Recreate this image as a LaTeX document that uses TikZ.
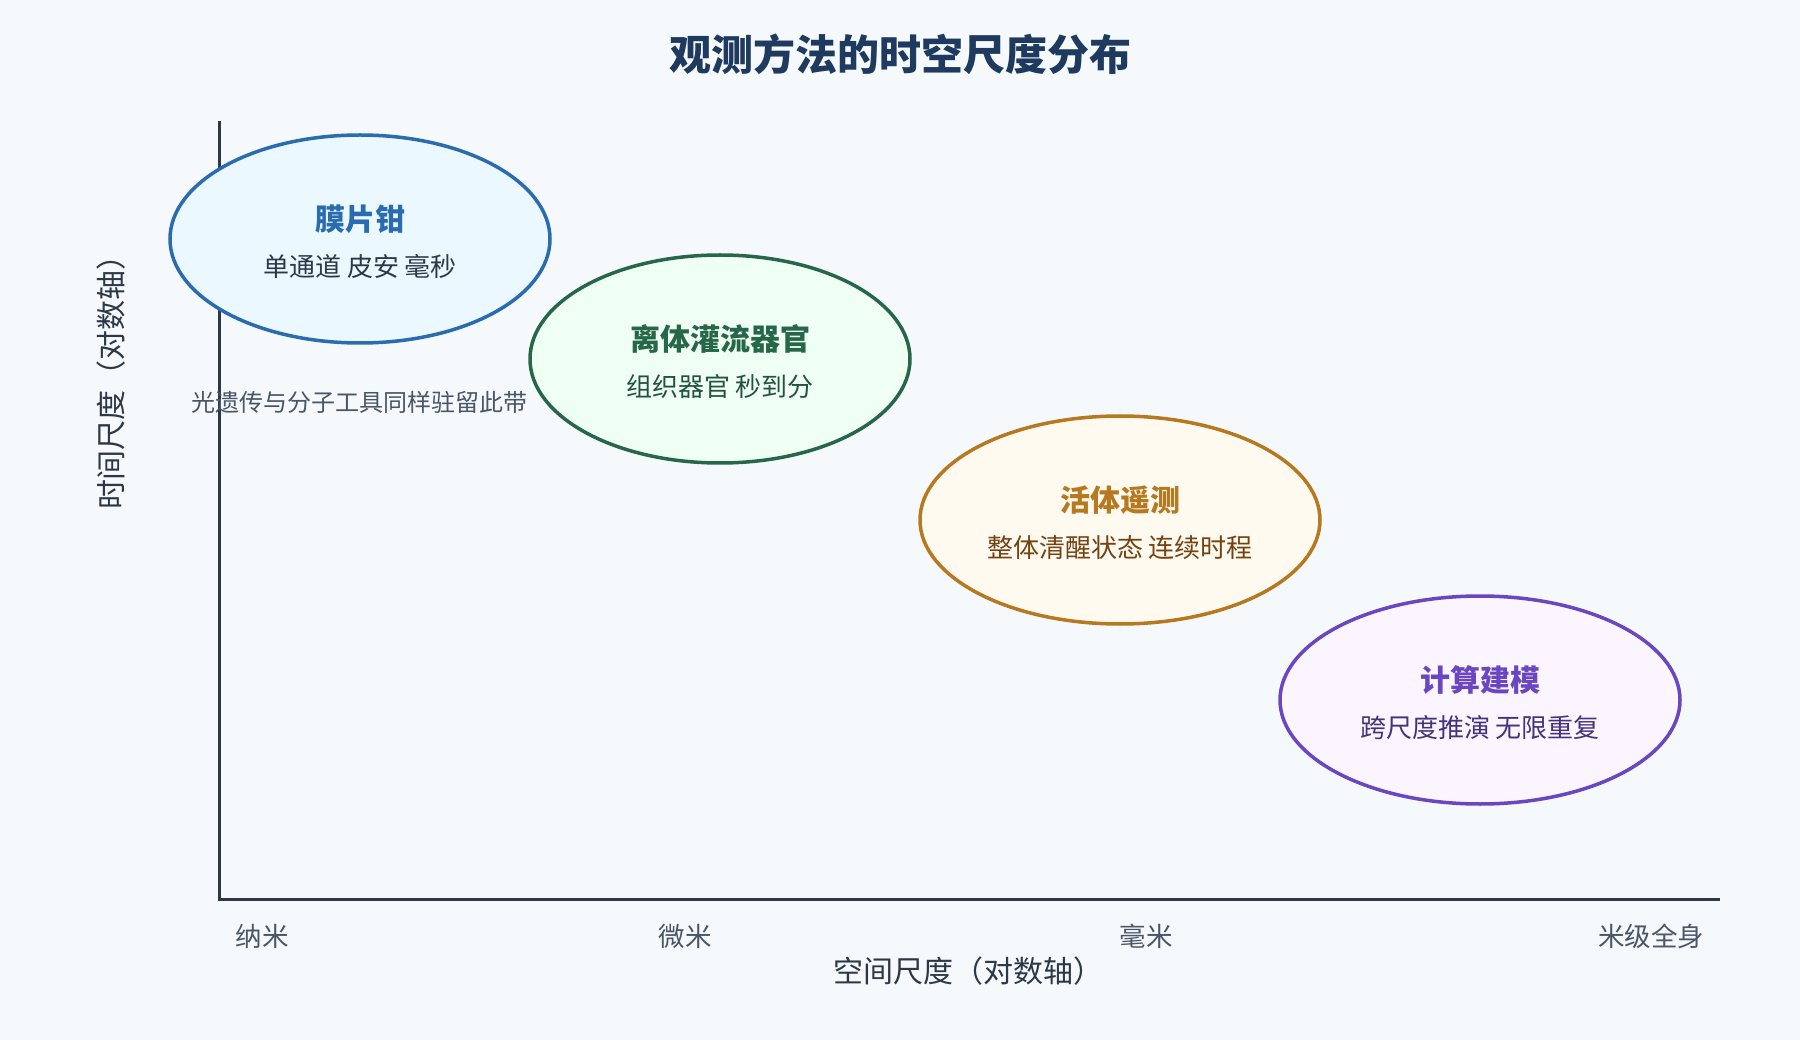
\documentclass[tikz,border=0pt]{standalone}
\usepackage{fontspec}
\setmainfont{Noto Sans CJK SC}
\usepackage{tikz}
\usetikzlibrary{shapes,positioning}

\definecolor{bgcol}{HTML}{F5F9FC}
\definecolor{titlecol}{HTML}{1E3A5F}
\definecolor{axiscol}{HTML}{2D3748}
\definecolor{tickcol}{HTML}{4A5568}
\definecolor{bluedraw}{HTML}{2B6CB0}
\definecolor{bluefill}{HTML}{EBF8FF}
\definecolor{greendraw}{HTML}{276749}
\definecolor{greenfill}{HTML}{F0FFF4}
\definecolor{greentext}{HTML}{22543D}
\definecolor{orangedraw}{HTML}{B7791F}
\definecolor{orangefill}{HTML}{FFFAF0}
\definecolor{orangetext}{HTML}{744210}
\definecolor{purpledraw}{HTML}{6B46C1}
\definecolor{purplefill}{HTML}{FAF5FF}
\definecolor{purpletext}{HTML}{44337A}

\begin{document}
\begin{tikzpicture}[x=1pt,y=-1pt]
	\tikzset{
		myellipse/.style={ellipse, line width=3.5pt, minimum width=380pt, minimum height=208pt, inner sep=0pt},
		myhead/.style={font=\fontsize{30}{34}\selectfont\bfseries, inner sep=0pt},
		mysub/.style={font=\fontsize{26}{30}\selectfont, inner sep=0pt},
		mytick/.style={font=\fontsize{26.5}{30}\selectfont, text=tickcol, inner sep=0pt},
		mylabel/.style={font=\fontsize{30}{34}\selectfont, text=axiscol, inner sep=0pt},
		myaxis/.style={line width=3pt, draw=axiscol}
	}
	\fill[bgcol] (0,0) rectangle (1800,1040);

	\node[font=\fontsize{42}{48}\selectfont\bfseries, text=titlecol] (title) at (900,54) {观测方法的时空尺度分布};

	% axes
	\coordinate (ytop) at (219,121);
	\coordinate (origin) at (219,899);
	\coordinate (xend) at (1720,899);
	\draw[myaxis] (ytop) -- (origin) -- (xend);

	% methods
	\node[myellipse, draw=bluedraw, fill=bluefill] (patch) at (360,239) {};
	\node[myhead, text=bluedraw] (patchname) at ([yshift=20pt]patch.center) {膜片钳};
	\node[mysub, text=axiscol, below=21pt of patchname] (patchsub) {单通道 皮安 毫秒};

	\node[myellipse, draw=greendraw, fill=greenfill] (organ) at (720,359) {};
	\node[myhead, text=greendraw] (organname) at ([yshift=20pt]organ.center) {离体灌流器官};
	\node[mysub, text=greentext, below=21pt of organname] (organsub) {组织器官 秒到分};

	\node[myellipse, draw=orangedraw, fill=orangefill, minimum width=400pt] (tele) at (1120,520) {};
	\node[myhead, text=orangedraw] (telename) at ([yshift=20pt]tele.center) {活体遥测};
	\node[mysub, text=orangetext, below=21pt of telename] (telesub) {整体清醒状态 连续时程};

	\node[myellipse, draw=purpledraw, fill=purplefill, minimum width=400pt] (model) at (1480,700) {};
	\node[myhead, text=purpledraw] (modelname) at ([yshift=20pt]model.center) {计算建模};
	\node[mysub, text=purpletext, below=21pt of modelname] (modelsub) {跨尺度推演 无限重复};

	\node[font=\fontsize{24}{28}\selectfont, text=tickcol, inner sep=0pt] (optonote) at (359,402) {光遗传与分子工具同样驻留此带};

	% ticks and labels
	\node[mytick] (nano) at (262,936) {纳米};
	\node[mytick] (micro) at (685,936) {微米};
	\node[mytick] (milli) at (1146,936) {毫米};
	\node[mytick] (whole) at (1651,936) {米级全身};
	\node[mylabel] (xlabel) at (968,971) {空间尺度（对数轴）};
	\node[mylabel, rotate=90] (ylabel) at (111,375) {时间尺度（对数轴）};
\end{tikzpicture}
\end{document}
